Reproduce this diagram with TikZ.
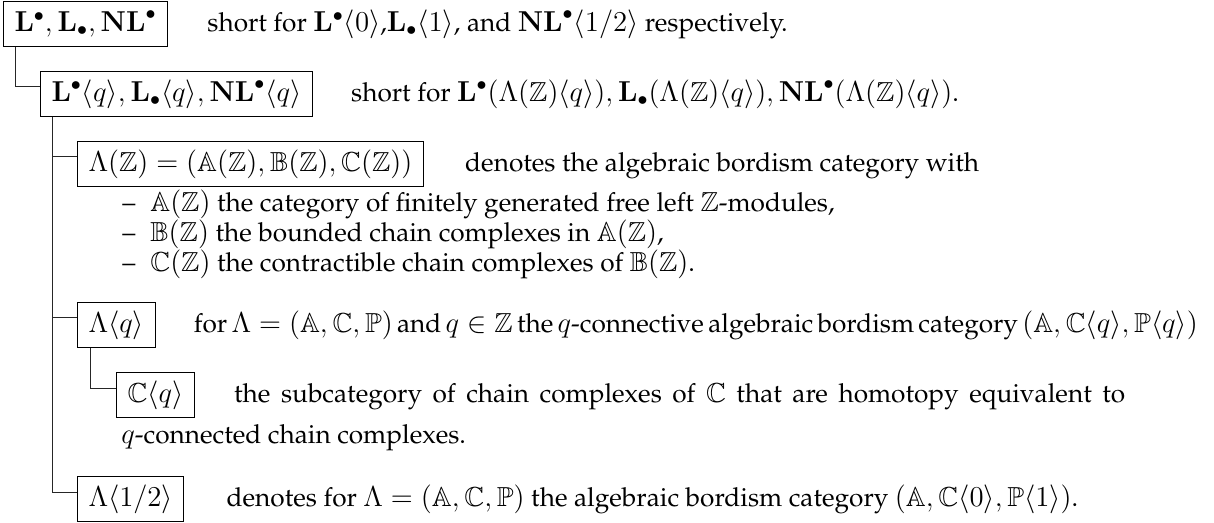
\documentclass[tikz,border=0pt]{standalone}
\usepackage{amsmath}
\usepackage{amssymb}
\usepackage[T1]{fontenc}
\renewcommand{\rmdefault}{ppl}
\DeclareMathSizes{13.1}{13.75}{9.6}{6.9}
\usetikzlibrary{positioning,calc}

\begin{document}
\begin{tikzpicture}[x=0.5pt, y=-0.5pt,
    font=\fontsize{13.1}{15}\selectfont,
    box/.style={rectangle, draw, line width=0.5pt, inner xsep=5.5pt, minimum height=22.5pt, anchor=north west},
    desc/.style={inner sep=0pt, align=left},
    item/.style={inner sep=0pt, anchor=base west},
    branch/.style={line width=0.5pt, black!85}]
    \useasboundingbox (0,0) rectangle (1214,523);
    % Boxes
    \node (b1) [box] at (3,1) {$\mathbf{L}^\bullet, \mathbf{L}_\bullet, \mathbf{NL}^\bullet$};
    \node (b2) [box] at (40,71) {$\mathbf{L}^\bullet\langle q\rangle, \mathbf{L}_\bullet\langle q\rangle, \mathbf{NL}^\bullet\langle q\rangle$};
    \node (b3) [box] at (77,141) {$\Lambda(\mathbb{Z}) = (\mathbb{A}(\mathbb{Z}), \mathbb{B}(\mathbb{Z}), \mathbb{C}(\mathbb{Z}))$};
    \node (bq) [box] at (77,302) {$\Lambda\langle q\rangle$};
    \node (bc) [box] at (116,372) {$\mathbb{C}\langle q\rangle$};
    \node (bh) [box] at (77,476) {$\Lambda\langle 1/2\rangle$};

    % Descriptions
    \node (d1) [desc, base right=19.5pt of b1] {short for $\mathbf{L}^\bullet\langle 0\rangle$,$\mathbf{L}_\bullet\langle 1\rangle$, and $\mathbf{NL}^\bullet\langle 1/2\rangle$ respectively.};
    \node (d2) [desc, base right=19pt of b2] {short for $\mathbf{L}^\bullet(\Lambda(\mathbb{Z})\langle q\rangle), \mathbf{L}_\bullet(\Lambda(\mathbb{Z})\langle q\rangle), \mathbf{NL}^\bullet(\Lambda(\mathbb{Z})\langle q\rangle)$.};
    \node (d3) [desc, base right=20.5pt of b3] {denotes the algebraic bordism category with};
    \node (l1) [item] at (122,212) {\makebox[14pt][l]{--}$\mathbb{A}(\mathbb{Z})$ the category of finitely generated free left $\mathbb{Z}$-modules,};
    \node (l2) [item] at (122,242) {\makebox[14pt][l]{--}$\mathbb{B}(\mathbb{Z})$ the bounded chain complexes in $\mathbb{A}(\mathbb{Z})$,};
    \node (l3) [item] at (122,272) {\makebox[14pt][l]{--}$\mathbb{C}(\mathbb{Z})$ the contractible chain complexes of $\mathbb{B}(\mathbb{Z})$.};
    \node (dq) [desc, base right=19pt of bq] {\makebox[502pt][s]{\spaceskip=0.25em plus 0.5em minus 0.12em for $\Lambda = (\mathbb{A}, \mathbb{C}, \mathbb{P})$ and $q\in\mathbb{Z}$ the $q$-connective algebraic bordism category $(\mathbb{A}, \mathbb{C}\langle q\rangle, \mathbb{P}\langle q\rangle)$}};
    \node (dc) [desc, base right=19.5pt of bc] {\makebox[445.5pt][s]{the subcategory of chain complexes of $\mathbb{C}$ that are homotopy equivalent to}};
    \node (dc2) [item] at (121,443) {$q$-connected chain complexes.};
    \node (dh) [desc, base right=21pt of bh] {denotes for $\Lambda = (\mathbb{A}, \mathbb{C}, \mathbb{P})$ the algebraic bordism category $(\mathbb{A}, \mathbb{C}\langle 0\rangle, \mathbb{P}\langle 1\rangle)$.};

    % Tree lines
    \draw [branch] ([xshift=6pt]b1.south west) |- ([yshift=3.5pt]b2.west);
    \draw [branch] ([xshift=6pt]b2.south west) |- ([yshift=3.5pt]bh.west);
    \draw [branch] ([yshift=3.5pt]b3.west) -| ([xshift=6pt]b2.south west);
    \draw [branch] ([yshift=3.5pt]bq.west) -| ([xshift=6pt]b2.south west);
    \draw [branch] ([xshift=6.5pt]bq.south west) |- ([yshift=3.5pt]bc.west);
\end{tikzpicture}
\end{document}
